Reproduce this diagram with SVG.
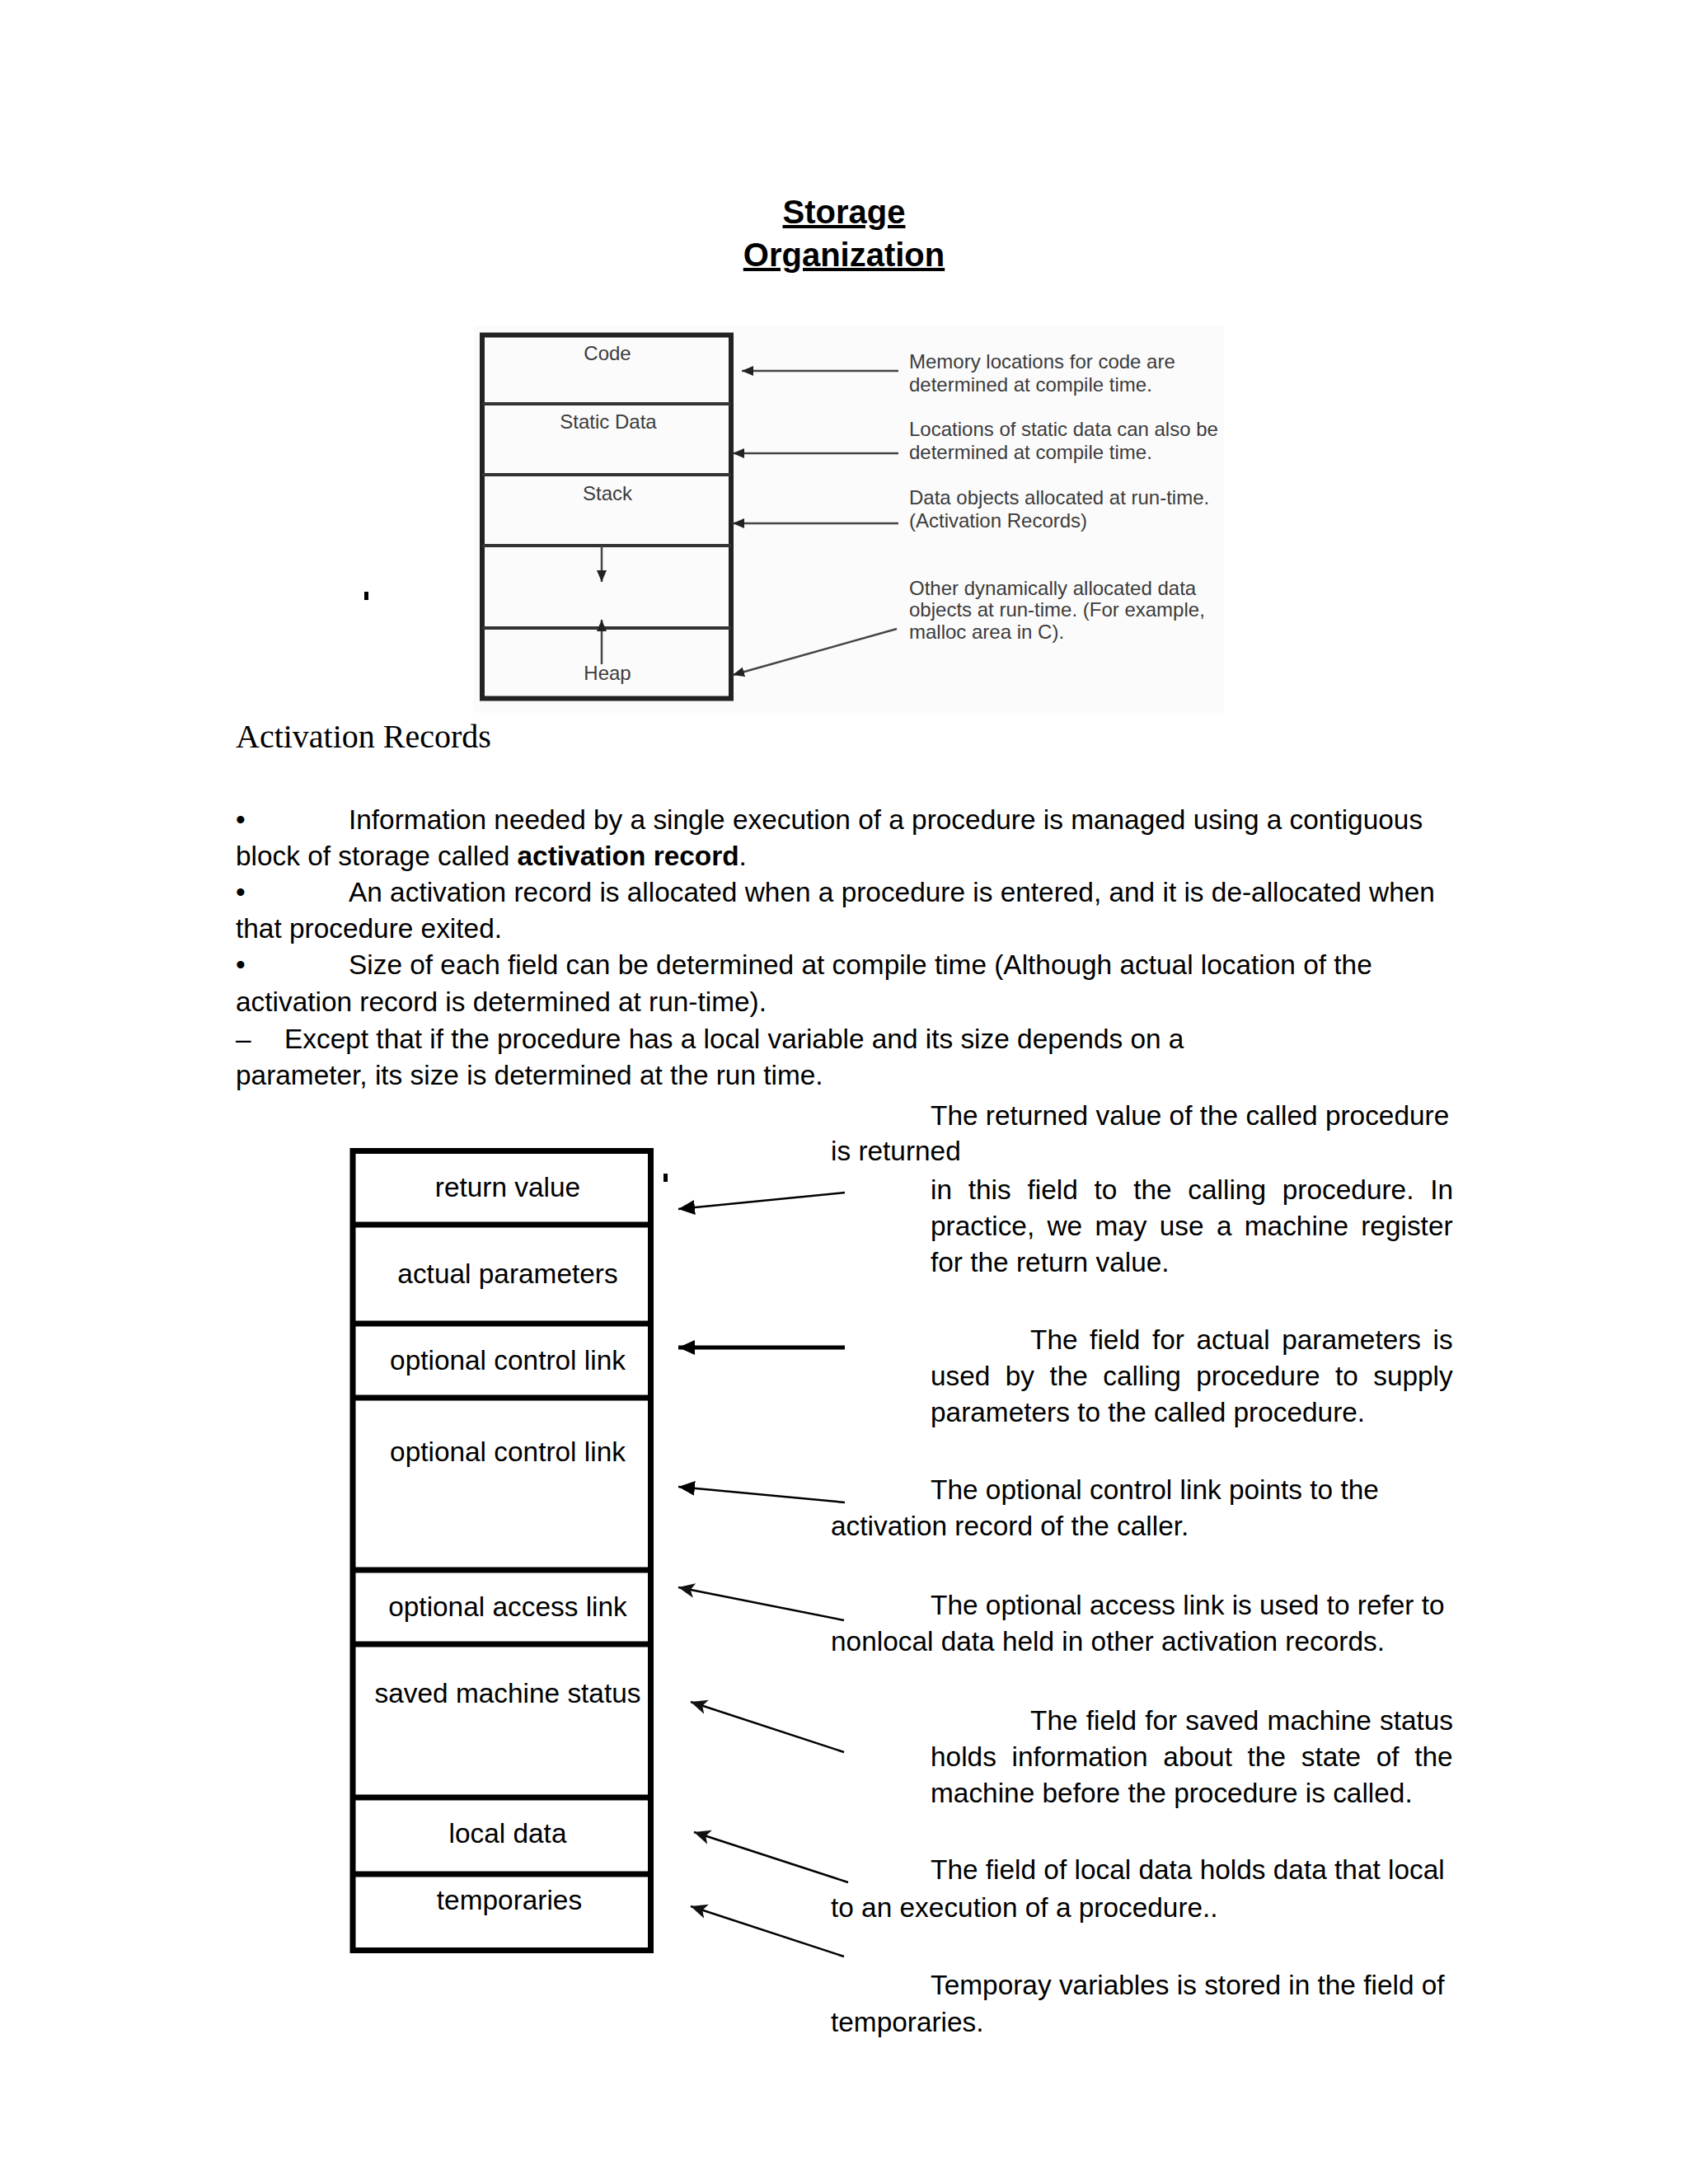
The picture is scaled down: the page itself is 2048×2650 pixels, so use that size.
<svg xmlns="http://www.w3.org/2000/svg" width="2048" height="2650" viewBox="0 0 2048 2650">
<style>
text{font-family:"Liberation Sans",Arial,sans-serif;fill:#000}
.t{font-size:40px;font-weight:bold;text-anchor:middle;text-decoration:underline}
.h{font-family:"Liberation Serif","Times New Roman",serif;font-size:40px}
.b{font-size:33.4px}
.c{font-size:33.4px;text-anchor:middle}
.g{font-size:24px;fill:#3c3c3c}
.gl{font-size:24px;fill:#3c3c3c;text-anchor:middle}
.box{fill:none;stroke:#000;stroke-width:7}
.div{stroke:#000;stroke-width:7}
.mbox{fill:none;stroke:#222;stroke-width:6}
.mdiv{stroke:#333;stroke-width:4}
.ga{stroke:#444;stroke-width:2.5;fill:none}
.ka{stroke:#000;stroke-width:2.5;fill:none}
</style>
<defs>
<marker id="ah" markerUnits="userSpaceOnUse" markerWidth="22" markerHeight="20" refX="20" refY="0" viewBox="0 -10 22 20" orient="auto"><path d="M0,-9 L20,0 L0,9 z" fill="#000"/></marker>
<marker id="ahn" markerUnits="userSpaceOnUse" markerWidth="22" markerHeight="20" refX="20" refY="0" viewBox="0 -10 22 20" orient="auto"><path d="M0,-9 L20,0 L0,9 L5,0 z" fill="#111"/></marker>
<marker id="gh" markerUnits="userSpaceOnUse" markerWidth="16" markerHeight="14" refX="14" refY="0" viewBox="0 -7 16 14" orient="auto"><path d="M0,-6 L14,0 L0,6 z" fill="#222"/></marker>
</defs>
<rect width="2048" height="2650" fill="#fff"/>

<g id="title">
<text class="t" x="1024" y="271">Storage</text>
<text class="t" x="1024" y="323">Organization</text>
</g>

<g id="memory-layout">
<rect x="575" y="395" width="910" height="470" fill="#fbfbfb"/>
<g id="mem-code"><text class="gl" x="737" y="437">Code</text></g>
<g id="mem-static"><text class="gl" x="738" y="520">Static Data</text></g>
<g id="mem-stack"><text class="gl" x="737" y="607">Stack</text></g>
<g id="mem-free"></g>
<g id="mem-heap"><text class="gl" x="737" y="825">Heap</text></g>
<rect class="mbox" x="585" y="406.5" width="302" height="441"/>
<line class="mdiv" x1="585" y1="490" x2="887" y2="490"/>
<line class="mdiv" x1="585" y1="576" x2="887" y2="576"/>
<line class="mdiv" x1="585" y1="662" x2="887" y2="662"/>
<line class="mdiv" x1="585" y1="762" x2="887" y2="762"/>
<line class="ga" x1="730" y1="662" x2="730" y2="706" marker-end="url(#gh)"/>
<line class="ga" x1="730" y1="806" x2="730" y2="752" marker-end="url(#gh)"/>
<g id="mem-notes">
<text class="g" x="1103" y="447">Memory locations for code are</text>
<text class="g" x="1103" y="475">determined at compile time.</text>
<text class="g" x="1103" y="529">Locations of static data can also be</text>
<text class="g" x="1103" y="557">determined at compile time.</text>
<text class="g" x="1103" y="612">Data objects allocated at run-time.</text>
<text class="g" x="1103" y="640">(Activation Records)</text>
<text class="g" x="1103" y="722">Other dynamically allocated data</text>
<text class="g" x="1103" y="748">objects at run-time. (For example,</text>
<text class="g" x="1103" y="775">malloc area in C).</text>
</g>
<g id="mem-connectors">
<line class="ga" x1="1090" y1="450" x2="900" y2="450" marker-end="url(#gh)"/>
<line class="ga" x1="1090" y1="550" x2="889" y2="550" marker-end="url(#gh)"/>
<line class="ga" x1="1090" y1="635" x2="889" y2="635" marker-end="url(#gh)"/>
<line class="ga" x1="1088" y1="763" x2="889" y2="819" marker-end="url(#gh)"/>
</g>
</g>
<rect x="442" y="718" width="5" height="10" fill="#000"/>

<g id="body-text">
<text class="h" x="286" y="907">Activation Records</text>
<text class="b" x="286" y="1006">•</text>
<text class="b" x="423" y="1006">Information needed by a single execution of a procedure is managed using a contiguous</text>
<text class="b" x="286" y="1050">block of storage called <tspan font-weight="bold">activation record</tspan>.</text>
<text class="b" x="286" y="1094">•</text>
<text class="b" x="423" y="1094">An activation record is allocated when a procedure is entered, and it is de-allocated when</text>
<text class="b" x="286" y="1138">that procedure exited.</text>
<text class="b" x="286" y="1182">•</text>
<text class="b" x="423" y="1182">Size of each field can be determined at compile time (Although actual location of the</text>
<text class="b" x="286" y="1227">activation record is determined at run-time).</text>
<text class="b" x="286" y="1272">–</text>
<text class="b" x="345" y="1272">Except that if the procedure has a local variable and its size depends on a</text>
<text class="b" x="286" y="1316">parameter, its size is determined at the run time.</text>
</g>

<g id="activation-record">
<g id="f-return"><text class="c" x="616" y="1452">return value</text></g>
<g id="f-params"><text class="c" x="616" y="1557">actual parameters</text></g>
<g id="f-control1"><text class="c" x="616" y="1662">optional control link</text></g>
<g id="f-control2"><text class="c" x="616" y="1773">optional control link</text></g>
<g id="f-access"><text class="c" x="616" y="1961">optional access link</text></g>
<g id="f-status"><text class="c" x="616" y="2066">saved machine status</text></g>
<g id="f-local"><text class="c" x="616" y="2236">local data</text></g>
<g id="f-temp"><text class="c" x="618" y="2317">temporaries</text></g>
<rect class="box" x="428" y="1396.5" width="361.5" height="970"/>
<line class="div" x1="428" y1="1486" x2="789.5" y2="1486"/>
<line class="div" x1="428" y1="1606" x2="789.5" y2="1606"/>
<line class="div" x1="428" y1="1696" x2="789.5" y2="1696"/>
<line class="div" x1="428" y1="1905" x2="789.5" y2="1905"/>
<line class="div" x1="428" y1="1995" x2="789.5" y2="1995"/>
<line class="div" x1="428" y1="2181" x2="789.5" y2="2181"/>
<line class="div" x1="428" y1="2274" x2="789.5" y2="2274"/>
</g>
<rect x="805" y="1424" width="5" height="10" fill="#000"/>

<g id="connectors">
<line class="ka" x1="1025" y1="1447" x2="823" y2="1467" marker-end="url(#ah)"/>
<line x1="1025" y1="1635" x2="823" y2="1635" stroke="#000" stroke-width="5" marker-end="url(#ah)"/>
<line class="ka" x1="1025" y1="1823" x2="823" y2="1804" marker-end="url(#ah)"/>
<line class="ka" x1="1024" y1="1966" x2="823" y2="1926" marker-end="url(#ahn)"/>
<line class="ka" x1="1024" y1="2126" x2="838" y2="2065" marker-end="url(#ahn)"/>
<line class="ka" x1="1029" y1="2284" x2="842" y2="2223" marker-end="url(#ahn)"/>
<line class="ka" x1="1024" y1="2374" x2="838" y2="2313" marker-end="url(#ahn)"/>
</g>

<g id="descriptions">
<text class="b" x="1129" y="1365">The returned value of the called procedure</text>
<text class="b" x="1008" y="1408">is returned</text>
<text class="b" x="1129" y="1455" word-spacing="10.5">in this field to the calling procedure. In</text>
<text class="b" x="1129" y="1499" word-spacing="6">practice, we may use a machine register</text>
<text class="b" x="1129" y="1543">for the return value.</text>
<text class="b" x="1250" y="1637" word-spacing="5.3">The field for actual parameters is</text>
<text class="b" x="1129" y="1681" word-spacing="9.1">used by the calling procedure to supply</text>
<text class="b" x="1129" y="1725">parameters to the called procedure.</text>
<text class="b" x="1129" y="1819">The optional control link points to the</text>
<text class="b" x="1008" y="1863">activation record of the caller.</text>
<text class="b" x="1129" y="1959">The optional access link is used to refer to</text>
<text class="b" x="1008" y="2003">nonlocal data held in other activation records.</text>
<text class="b" x="1250" y="2099" word-spacing="0.9">The field for saved machine status</text>
<text class="b" x="1129" y="2143" word-spacing="9.4">holds information about the state of the</text>
<text class="b" x="1129" y="2187">machine before the procedure is called.</text>
<text class="b" x="1129" y="2280">The field of local data holds data that local</text>
<text class="b" x="1008" y="2326">to an execution of a procedure..</text>
<text class="b" x="1129" y="2420">Temporay variables is stored in the field of</text>
<text class="b" x="1008" y="2465">temporaries.</text>
</g>
</svg>
